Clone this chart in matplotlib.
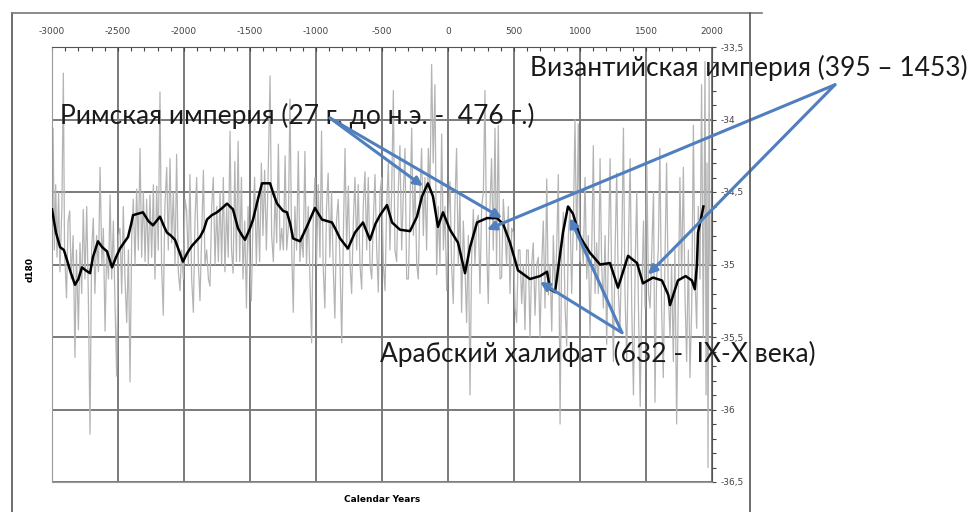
import matplotlib
matplotlib.use('Agg')
import matplotlib.pyplot as plt
from matplotlib.ticker import MultipleLocator, FuncFormatter
from matplotlib.lines import Line2D

plt.rcParams['axes.unicode_minus'] = False

# raw (grey) series: spike extremes
gray_years = [-3000, -2992, -2982, -2972, -2962, -2950, -2940, -2925, -2914, -2905, -2890, -2878, -2866, -2855, -2840,
              -2826, -2815, -2800, -2788, -2775, -2763, -2750, -2737, -2725, -2712, -2700, -2687, -2675, -2662, -2648,
              -2636, -2622, -2611, -2598, -2586, -2572, -2560, -2548, -2535, -2522, -2510, -2497, -2485, -2472, -2460,
              -2447, -2434, -2421, -2409, -2396, -2384, -2371, -2359, -2346, -2333, -2321, -2308, -2295, -2283, -2270,
              -2258, -2245, -2232, -2220, -2207, -2195, -2182, -2170, -2157, -2145, -2131, -2119, -2106, -2094, -2081,
              -2068, -2056, -2043, -2030, -2018, -2005, -1992, -1980, -1967, -1955, -1942, -1929, -1917, -1904, -1891,
              -1879, -1866, -1853, -1841, -1828, -1815, -1803, -1790, -1778, -1765, -1752, -1740, -1727, -1715, -1702,
              -1690, -1677, -1665, -1651, -1640, -1628, -1615, -1603, -1590, -1578, -1565, -1553, -1540, -1527, -1515,
              -1502, -1490, -1477, -1465, -1452, -1440, -1427, -1414, -1402, -1389, -1376, -1364, -1348, -1336, -1323,
              -1310, -1298, -1285, -1272, -1260, -1247, -1234, -1222, -1210, -1197, -1184, -1172, -1160, -1147, -1134,
              -1122, -1110, -1097, -1084, -1072, -1059, -1046, -1033, -1021, -1008, -996, -983, -970, -958, -946,
              -933, -920, -908, -895, -882, -870, -857, -845, -832, -818, -805, -793, -780, -768, -755,
              -742, -730, -717, -705, -692, -680, -667, -654, -642, -629, -616, -604, -591, -578, -566,
              -553, -540, -528, -515, -502, -490, -477, -465, -452, -440, -427, -414, -402, -389, -377,
              -364, -351, -338, -326, -313, -300, -288, -275, -262, -250, -237, -225, -212, -200, -187,
              -175, -162, -149, -137, -124, -112, -99, -86, -74, -61, -48, -35, -23, -10, 2,
              15, 27, 40, 52, 65, 78, 90, 103, 116, 128, 141, 154, 167, 179, 192,
              204, 217, 230, 242, 255, 268, 280, 293, 305, 318, 330, 343, 356, 368, 381,
              394, 406, 419, 432, 444, 457, 470, 482, 495, 508, 520, 533, 545, 558, 571,
              583, 596, 608, 621, 634, 646, 659, 672, 684, 697, 710, 722, 735, 748, 760,
              773, 786, 798, 811, 823, 836, 849, 861, 874, 887, 899, 912, 924, 937, 950,
              962, 975, 987, 1000, 1013, 1025, 1038, 1051, 1063, 1076, 1089, 1101, 1114, 1126, 1139,
              1152, 1164, 1177, 1190, 1202, 1215, 1228, 1240, 1253, 1266, 1278, 1291, 1303, 1316, 1329,
              1341, 1354, 1367, 1380, 1392, 1405, 1418, 1430, 1443, 1456, 1468, 1481, 1493, 1506, 1519,
              1531, 1544, 1557, 1568, 1580, 1593, 1605, 1618, 1631, 1643, 1656, 1669, 1682, 1694, 1707,
              1719, 1732, 1745, 1757, 1770, 1783, 1795, 1808, 1821, 1833, 1846, 1859, 1871, 1884, 1896,
              1909, 1921, 1934, 1947, 1955, 1962, 1970, 1978, 1985]
gray_d18o = [-34.55, -34.06, -34.9, -34.45, -34.95, -34.5, -35.05, -34.6, -33.68, -34.9, -35.23, -34.7, -34.63, -35.1, -34.8,
             -35.64, -34.9, -35.45, -34.85, -35.2, -34.62, -35.1, -34.6, -35.2, -36.17, -34.9, -34.68, -35.2, -34.8, -35.05,
             -34.33, -35.0, -34.75, -35.46, -34.9, -35.1, -34.52, -35.1, -34.7, -35.3, -35.77, -34.8, -34.75, -35.2, -34.6,
             -35.1, -35.4, -34.9, -35.81, -34.8, -34.55, -35.0, -34.48, -34.9, -34.2, -34.95, -34.5, -34.98, -34.55, -35.0,
             -34.52, -34.95, -34.45, -35.1, -34.46, -34.9, -33.81, -35.0, -35.35, -34.6, -34.33, -34.9, -34.27, -34.85, -34.5,
             -35.0, -34.24, -35.05, -35.18, -34.9, -35.1, -34.55, -34.63, -35.0, -34.38, -35.1, -35.33, -34.7, -34.4, -35.0,
             -35.25, -34.8, -34.35, -35.0, -34.9, -35.1, -35.15, -34.6, -34.4, -35.0, -34.6, -34.98, -34.5, -35.0, -34.4,
             -35.05, -34.6, -34.95, -34.08, -34.9, -35.06, -34.29, -34.98, -34.15, -34.98, -34.4, -35.1, -34.7, -35.3, -34.6,
             -35.0, -35.25, -34.7, -34.4, -35.0, -34.55, -34.98, -34.3, -34.8, -34.35, -34.9, -34.45, -33.7, -34.8, -34.98,
             -34.5, -34.85, -34.17, -34.9, -34.75, -34.9, -34.25, -34.9, -34.75, -33.86, -34.9, -35.33, -34.6, -34.9, -34.22,
             -34.98, -34.8, -34.95, -34.22, -35.0, -34.6, -35.1, -35.54, -34.7, -34.4, -35.0, -34.45, -34.95, -34.08, -35.0,
             -35.3, -34.6, -34.37, -34.95, -34.5, -35.0, -35.37, -34.7, -34.55, -35.0, -35.54, -34.8, -34.2, -34.9, -34.46,
             -35.0, -35.2, -34.7, -34.4, -34.9, -34.45, -35.0, -35.17, -34.6, -34.36, -34.9, -34.4, -35.0, -35.1, -34.7,
             -34.38, -34.9, -35.19, -34.5, -34.4, -35.0, -35.18, -34.6, -34.3, -34.9, -34.5, -33.8, -34.9, -34.98, -34.5,
             -34.18, -34.9, -34.5, -34.2, -35.1, -35.1, -34.6, -34.06, -34.8, -34.4, -35.0, -35.1, -34.5, -34.2, -34.8,
             -34.4, -34.9, -34.2, -34.5, -33.62, -34.3, -33.76, -35.07, -34.6, -35.0, -34.1, -34.9, -34.6, -35.18, -34.7,
             -34.43, -35.0, -35.27, -34.6, -34.2, -35.0, -34.5, -35.33, -34.7, -35.0, -35.4, -34.8, -35.9, -34.95, -34.62,
             -35.0, -34.7, -34.66, -35.2, -34.6, -34.5, -33.8, -34.9, -35.27, -34.6, -34.27, -34.9, -34.06, -35.0, -34.04,
             -35.1, -35.09, -34.55, -34.77, -35.0, -34.6, -35.2, -34.75, -34.78, -35.3, -35.4, -34.9, -34.9, -35.27, -35.0,
             -35.45, -34.9, -34.9, -35.5, -35.0, -34.85, -35.35, -35.0, -34.95, -35.5, -35.0, -34.7, -35.3, -34.41, -35.21,
             -35.0, -35.46, -34.8, -35.2, -34.9, -34.38, -36.1, -34.9, -34.64, -35.3, -35.56, -34.8, -34.6, -35.2, -34.7,
             -34.0, -34.9, -34.03, -34.98, -34.8, -35.0, -34.4, -35.1, -34.8, -35.5, -34.9, -34.18, -35.2, -34.85, -35.2,
             -34.27, -35.0, -35.3, -34.8, -35.55, -34.9, -34.27, -35.1, -35.67, -34.9, -34.37, -35.2, -35.44, -34.9, -34.06,
             -35.2, -35.67, -34.85, -34.27, -35.3, -35.9, -35.0, -34.5, -35.3, -35.98, -35.2, -34.7, -35.3, -34.3, -35.2,
             -35.3, -34.9, -34.5, -35.95, -35.1, -34.9, -34.2, -35.3, -35.78, -35.0, -34.3, -35.2, -35.5, -35.0, -35.67,
             -34.9, -36.1, -35.2, -34.4, -35.1, -34.33, -35.2, -35.67, -34.9, -35.78, -35.3, -34.04, -35.1, -35.44, -34.6,
             -35.1, -33.76, -35.5, -33.6, -35.9, -34.3, -36.4, -33.7, -35.0]

# smoothed (black) series
smooth_years = [-3000, -2970, -2939, -2910, -2886, -2860, -2826, -2800, -2773, -2745, -2712, -2690, -2652, -2620, -2583,
                -2545, -2515, -2485, -2455, -2424, -2400, -2386, -2350, -2311, -2270, -2235, -2182, -2150, -2129, -2100,
                -2068, -2040, -2008, -1975, -1939, -1879, -1850, -1826, -1790, -1750, -1710, -1674, -1629, -1591, -1560,
                -1538, -1500, -1477, -1440, -1409, -1348, -1320, -1295, -1250, -1220, -1195, -1174, -1121, -1060, -1008,
                -955, -879, -850, -818, -758, -705, -644, -591, -550, -515, -462, -424, -364, -288, -235,
                -197, -152, -114, -76, -38, 15, 76, 129, 167, 220, 295, 371, 417, 470, 530,
                621, 697, 750, 773, 811, 871, 909, 947, 1000, 1076, 1152, 1227, 1288, 1364, 1432,
                1477, 1553, 1621, 1669, 1682, 1742, 1800, 1848, 1870, 1886, 1894, 1924, 1935]
smooth_d18o = [-34.62, -34.78, -34.88, -34.9, -34.97, -35.05, -35.14, -35.1, -35.02, -35.04, -35.06, -34.95, -34.84, -34.88, -34.91,
               -35.02, -34.95, -34.89, -34.85, -34.81, -34.72, -34.66, -34.65, -34.64, -34.7, -34.73, -34.67, -34.74, -34.78, -34.8,
               -34.83, -34.9, -34.98, -34.92, -34.87, -34.81, -34.76, -34.69, -34.66, -34.64, -34.61, -34.58, -34.62, -34.75, -34.8,
               -34.83, -34.75, -34.69, -34.55, -34.44, -34.44, -34.52, -34.58, -34.63, -34.64, -34.72, -34.82, -34.84, -34.72, -34.61,
               -34.69, -34.71, -34.76, -34.82, -34.89, -34.78, -34.71, -34.83, -34.72, -34.66, -34.59, -34.71, -34.76, -34.77, -34.67,
               -34.53, -34.44, -34.53, -34.74, -34.64, -34.76, -34.85, -35.06, -34.88, -34.71, -34.68, -34.68, -34.72, -34.85, -35.04,
               -35.10, -35.08, -35.05, -35.17, -35.19, -34.78, -34.60, -34.65, -34.81, -34.92, -35.0, -34.99, -35.16, -34.94, -34.99,
               -35.13, -35.09, -35.11, -35.21, -35.28, -35.11, -35.08, -35.11, -35.17, -35.0, -34.78, -34.65, -34.6]

fig = plt.figure(figsize=(9.71, 5.12), dpi=100)
ax = fig.add_axes([52/971, 1-482/512, 660/971, 435/512])

ax.plot(gray_years, gray_d18o, color='#b4b4b4', lw=0.9, zorder=2)
ax.plot(smooth_years, smooth_d18o, color='black', lw=1.8, zorder=3)

ax.set_xlim(-3000, 2000)
ax.set_ylim(-36.5, -33.5)

ax.xaxis.tick_top()
ax.yaxis.tick_right()
ax.xaxis.set_major_locator(MultipleLocator(500))
ax.xaxis.set_minor_locator(MultipleLocator(100))
ax.yaxis.set_major_locator(MultipleLocator(0.5))
ax.yaxis.set_minor_locator(MultipleLocator(0.1))
ax.yaxis.set_major_formatter(FuncFormatter(lambda v, p: ('%g' % v).replace('.', ',')))
ax.tick_params(which='both', direction='in', length=3, width=0.8, colors='#444444', labelsize=6.5, pad=8)
ax.tick_params(axis='y', which='both', direction='out', pad=3)
ax.grid(True, which='major', color='#7a7a7a', lw=1.4, zorder=1)

for side in ['left', 'bottom']:
    ax.spines[side].set_color('#999999')
for side in ['top', 'right']:
    ax.spines[side].set_color('#555555')

fig.text(30/971, 1-270/512, 'd180', rotation=90, fontsize=6.5, fontweight='bold', ha='center', va='center')
fig.text(382/971, 1-500/512, 'Calendar Years', fontsize=6.5, fontweight='bold', ha='center', va='center')

# outer chart frame
fig.add_artist(Line2D([12/971, 12/971], [0, 1-13/512], color='#555555', lw=1.2))
fig.add_artist(Line2D([12/971, 762/971], [1-13/512, 1-13/512], color='#777777', lw=1.2))
fig.add_artist(Line2D([750/971, 750/971], [0, 1-13/512], color='#555555', lw=1.2))

# annotations
arrow_color = '#4f7fbf'
arrowprops = dict(arrowstyle='-|>', color=arrow_color, lw=2.2, mutation_scale=13, shrinkA=0, shrinkB=0)
font = dict(family=['Lato', 'DejaVu Sans'], fontsize=19, color='#1a1a1a')

ax.text(-2939, -33.976, 'Римская империя (27 г. до н.э. -  476 г.)', ha='left', va='center', clip_on=False, zorder=5, **font)
for target in [(-190, -34.46), (409, -34.68)]:
    ax.annotate('', xy=target, xytext=(-894, -33.99), arrowprops=arrowprops, annotation_clip=False, zorder=6)

ax.text(621, -33.645, 'Византийская империя (395 – 1453)', ha='left', va='center', clip_on=False, zorder=5, **font)
for target in [(295, -34.76), (1515, -35.07)]:
    ax.annotate('', xy=target, xytext=(2932, -33.76), arrowprops=arrowprops, annotation_clip=False, zorder=6)

ax.text(-515, -35.62, 'Арабский халифат (632 -  IX-X века)', ha='left', va='center', clip_on=False, zorder=5, **font)
for target in [(697, -35.12), (924, -34.68)]:
    ax.annotate('', xy=target, xytext=(1318, -35.47), arrowprops=arrowprops, annotation_clip=False, zorder=6)

fig.savefig('out.png', dpi=100)
